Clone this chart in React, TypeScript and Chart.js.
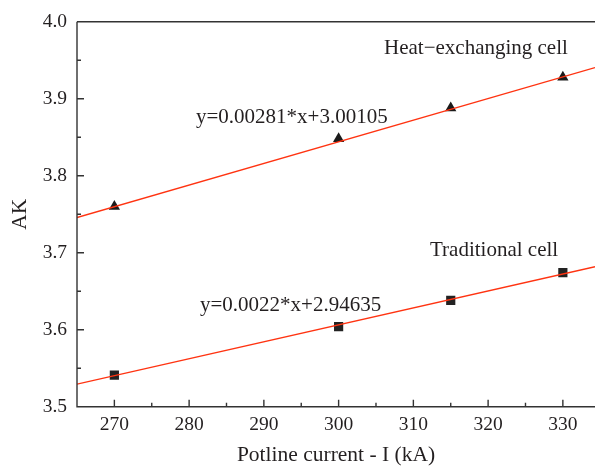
import React, { useEffect, useRef } from 'react';
import { Chart, registerables } from 'chart.js';

Chart.register(...registerables);

const currents = [270, 300, 315, 330];
const heatExchanging = [3.760, 3.848, 3.888, 3.928];
const traditional = [3.541, 3.604, 3.638, 3.674];
const fitX = [265, 334.3];
const heatFit = [3.7457, 3.9404];
const tradFit = [3.5294, 3.6818];
const xTickLabels = [270, 280, 290, 300, 310, 320, 330];
const xMinorTicks = [275, 285, 295, 305, 315, 325];
const yTickLabels = [3.5, 3.6, 3.7, 3.8, 3.9, 4.0];
const yMinorTicks = [3.55, 3.65, 3.75, 3.85, 3.95];

const FONT = '"Liberation Serif", "DejaVu Serif", serif';
const TEXT = '#231f20';
const AXIS = '#333333';
const RED = '#ff3311';

const framePlugin = {
  id: 'frame',
  afterDraw(chart: any) {
    const { ctx, chartArea } = chart;
    const xs = chart.scales.x;
    const ys = chart.scales.y;
    ctx.save();
    ctx.strokeStyle = AXIS;
    ctx.lineWidth = 1.4;
    ctx.beginPath();
    ctx.moveTo(chartArea.left, chartArea.top);
    ctx.lineTo(chartArea.right, chartArea.top);
    ctx.moveTo(chartArea.left, chartArea.top);
    ctx.lineTo(chartArea.left, chartArea.bottom);
    ctx.lineTo(chartArea.right, chartArea.bottom);
    xTickLabels.forEach((v) => {
      const px = xs.getPixelForValue(v);
      ctx.moveTo(px, chartArea.bottom);
      ctx.lineTo(px, chartArea.bottom - 7);
    });
    xMinorTicks.forEach((v) => {
      const px = xs.getPixelForValue(v);
      ctx.moveTo(px, chartArea.bottom);
      ctx.lineTo(px, chartArea.bottom - 4);
    });
    yTickLabels.forEach((v) => {
      const py = ys.getPixelForValue(v);
      ctx.moveTo(chartArea.left, py);
      ctx.lineTo(chartArea.left + 7, py);
    });
    yMinorTicks.forEach((v) => {
      const py = ys.getPixelForValue(v);
      ctx.moveTo(chartArea.left, py);
      ctx.lineTo(chartArea.left + 4, py);
    });
    ctx.stroke();

    ctx.fillStyle = TEXT;
    ctx.font = `21px ${FONT}`;
    ctx.textBaseline = 'middle';
    ctx.textAlign = 'left';
    ctx.fillText('Heat\u2212exchanging cell', 384, 48);
    ctx.fillText('y=0.00281*x+3.00105', 196, 117);
    ctx.fillText('Traditional cell', 430, 250);
    ctx.fillText('y=0.0022*x+2.94635', 200, 305);
    ctx.restore();
  },
};

export default function App() {
  const ref = useRef<HTMLCanvasElement | null>(null);
  useEffect(() => {
    document.body.style.margin = '0';
    const canvas = ref.current;
    if (!canvas) return;
    const chart = new Chart(canvas, {
      type: 'scatter',
      data: {
        datasets: [
          {
            label: 'Heat-exchanging fit',
            data: fitX.map((x, i) => ({ x, y: heatFit[i] })),
            showLine: true,
            borderColor: RED,
            borderWidth: 1.3,
            pointRadius: 0,
            order: 1,
          },
          {
            label: 'Traditional fit',
            data: fitX.map((x, i) => ({ x, y: tradFit[i] })),
            showLine: true,
            borderColor: RED,
            borderWidth: 1.3,
            pointRadius: 0,
            order: 1,
          },
          {
            label: 'Heat-exchanging cell',
            data: currents.map((x, i) => ({ x, y: heatExchanging[i] })),
            pointStyle: 'triangle',
            pointRadius: 6.5,
            backgroundColor: '#1a1a1a',
            borderColor: '#1a1a1a',
            borderWidth: 0,
            order: 2,
          },
          {
            label: 'Traditional cell',
            data: currents.map((x, i) => ({ x, y: traditional[i] })),
            pointStyle: 'rect',
            pointRadius: 6.5,
            backgroundColor: '#222222',
            borderColor: '#222222',
            borderWidth: 0,
            order: 2,
          },
        ],
      },
      options: {
        animation: false,
        responsive: false,
        layout: { autoPadding: false, padding: { top: 18, right: 0, left: 0, bottom: 0 } },
        plugins: {
          legend: { display: false },
          tooltip: { enabled: false },
        },
        scales: {
          x: {
            type: 'linear',
            min: 265,
            max: 334.3,
            grid: { display: false, drawTicks: false },
            border: { display: false },
            afterBuildTicks: (scale: any) => {
              scale.ticks = xTickLabels.map((v) => ({ value: v }));
            },
            afterFit: (scale: any) => {
              scale.height = 61.3;
              scale.paddingLeft = 0;
              scale.paddingRight = 0;
            },
            ticks: {
              autoSkip: false,
              maxRotation: 0,
              padding: 6,
              color: TEXT,
              font: { family: FONT, size: 19.5 },
              callback: (v: any) => String(v),
            },
            title: {
              display: true,
              text: 'Potline current - I (kA)',
              color: TEXT,
              font: { family: FONT, size: 21.5 },
              padding: { top: 0, bottom: 0 },
            },
          },
          y: {
            type: 'linear',
            min: 3.5,
            max: 4.0,
            grid: { display: false, drawTicks: false },
            border: { display: false },
            afterBuildTicks: (scale: any) => {
              scale.ticks = yTickLabels.map((v) => ({ value: v }));
            },
            afterFit: (scale: any) => {
              scale.width = 77;
            },
            ticks: {
              padding: 10,
              color: TEXT,
              font: { family: FONT, size: 19.5 },
              callback: (v: any) => Number(v).toFixed(1),
            },
            title: {
              display: true,
              text: 'AK',
              color: TEXT,
              font: { family: FONT, size: 21.5 },
              padding: { top: 7, bottom: 0 },
            },
          },
        },
      },
      plugins: [framePlugin],
    });
    return () => chart.destroy();
  }, []);
  return (
    <div style={{ position: 'absolute', left: 0, top: 0, width: 595, height: 468, background: '#fff' }}>
      <canvas ref={ref} width={595} height={468} />
    </div>
  );
}
